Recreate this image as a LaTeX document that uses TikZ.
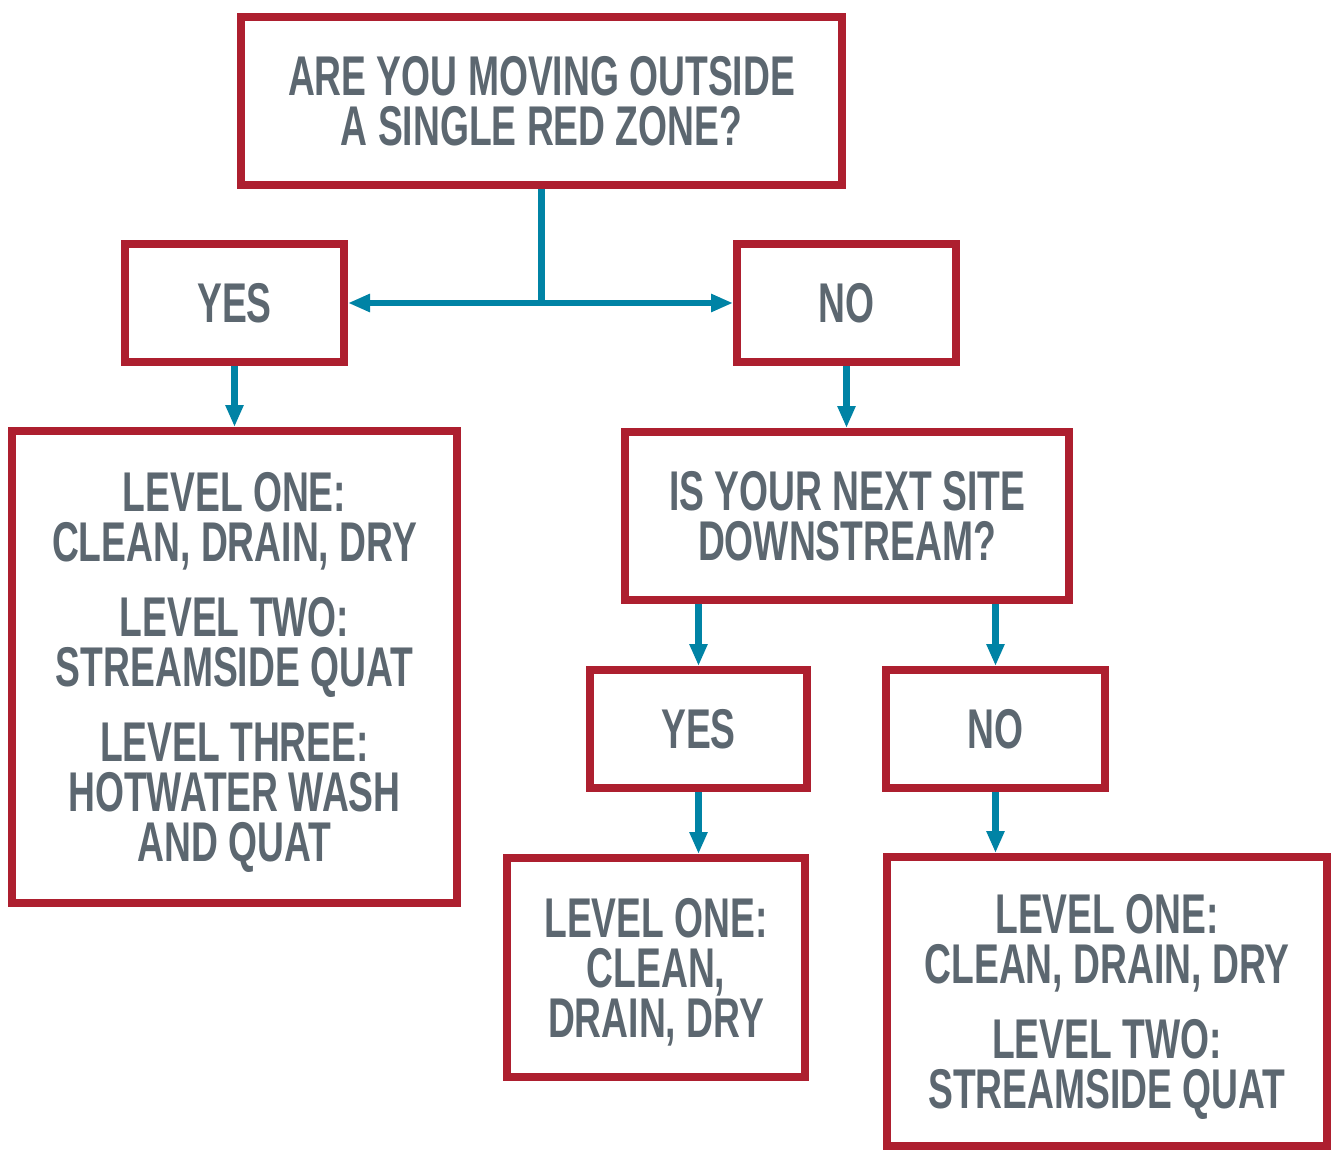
\documentclass[tikz,border=0pt]{standalone}
\usepackage{fontspec}
\newfontfamily\chartfont[FakeStretch=0.665]{Liberation Sans}
\usepackage{xcolor}
\usetikzlibrary{arrows.meta,positioning,calc}
\definecolor{zonered}{HTML}{AD1F2F}
\definecolor{flowteal}{HTML}{0083A5}
\definecolor{textgray}{HTML}{5C6770}

\begin{document}
\begin{tikzpicture}[
  x=1pt, y=-1pt,                     % pixel-like units, y going down
  every node/.style={align=center,inner sep=0pt}, % text sits in fixed-size boxes
  >={Triangle[length=22pt,width=17pt]}, % solid arrow tip
  box/.style={draw=zonered, line width=8pt, fill=white, text=textgray,
    text depth=0pt,
    font=\chartfont\bfseries\fontsize{56}{50}\selectfont},
  link/.style={draw=flowteal, line width=6.5pt},
  linkarrow/.style={link, ->}
]
\useasboundingbox (0,0) rectangle (1331,1150);

\node[box, minimum width=601pt, minimum height=168pt] (top) at (541.5,101)
  {ARE YOU MOVING OUTSIDE\\ A SINGLE RED ZONE?};
\node[box, minimum width=219pt, minimum height=118pt] (yes1) at (234.5,303) {YES};
\node[box, minimum width=219pt, minimum height=118pt] (no1) at (846.5,303) {NO};
\node[box, minimum width=445pt, minimum height=472pt] (lvl1) at (234.5,667)
  {LEVEL ONE:\\ CLEAN, DRAIN, DRY\\[25pt] LEVEL TWO:\\ STREAMSIDE QUAT\\[25pt]
   LEVEL THREE:\\ HOTWATER WASH\\ AND QUAT};
\node[box, minimum width=444pt, minimum height=168pt] (q2) at (847,516)
  {IS YOUR NEXT SITE\\ DOWNSTREAM?};
\node[box, minimum width=217pt, minimum height=118pt] (yes2) at (698.5,729) {YES};
\node[box, minimum width=219pt, minimum height=118pt] (no2) at (995.5,729) {NO};
\node[box, minimum width=298pt, minimum height=219pt] (lvlmid) at (656,967.5)
  {LEVEL ONE:\\ CLEAN,\\ DRAIN, DRY};
\node[box, minimum width=440pt, minimum height=289pt] (lvlright) at (1107,1001.5)
  {LEVEL ONE:\\ CLEAN, DRAIN, DRY\\[25pt] LEVEL TWO:\\ STREAMSIDE QUAT};

% first split
\coordinate (fork) at (top.south |- yes1.east);
\draw[link] (top.south) -- (fork);
\draw[linkarrow] (fork) -- (yes1.east);
\draw[linkarrow] (fork) -- (no1.west);

% downward links
\draw[linkarrow] (yes1.south) -- (lvl1.north);
\draw[linkarrow] (no1.south) -- (no1.south |- q2.north);
\draw[linkarrow] (q2.south -| yes2.north) -- (yes2.north);
\draw[linkarrow] (q2.south -| no2.north) -- (no2.north);
\draw[linkarrow] (yes2.south) -- (yes2.south |- lvlmid.north);
\draw[linkarrow] (no2.south) -- (no2.south |- lvlright.north);
\end{tikzpicture}
\end{document}
